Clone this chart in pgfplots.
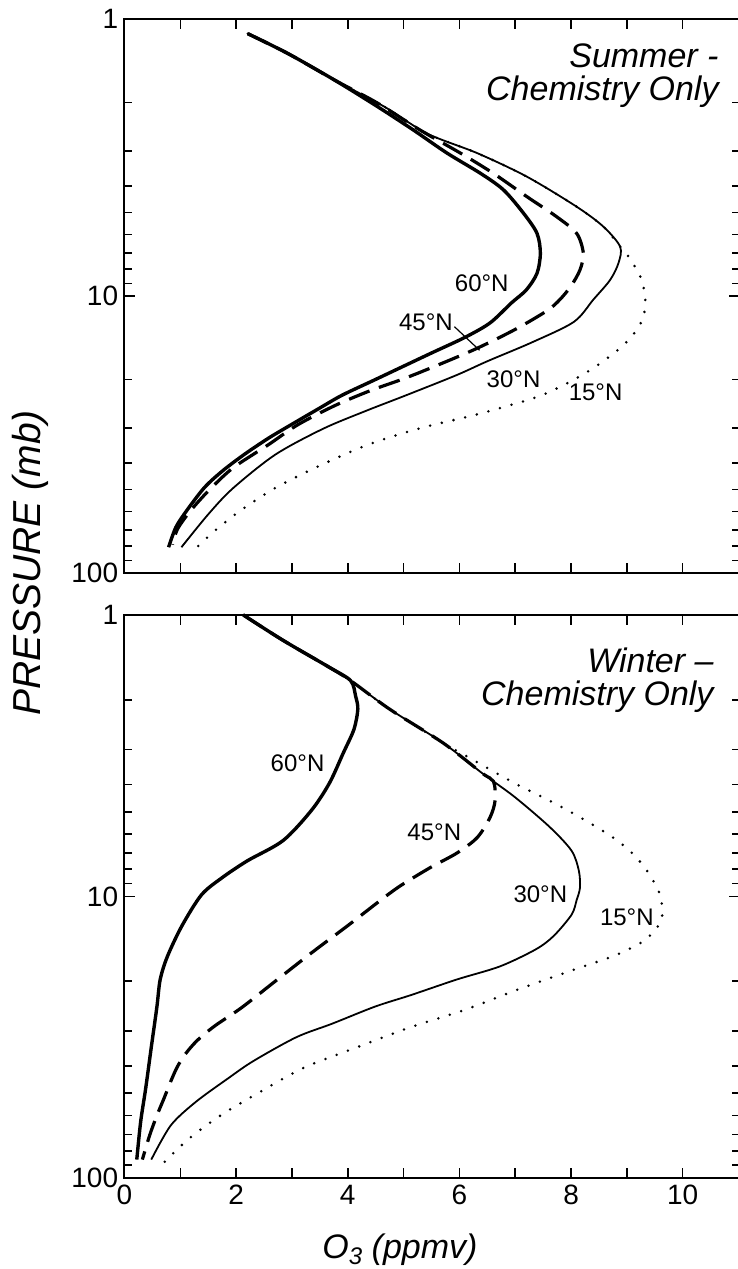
\documentclass[border=0pt]{standalone}
\usepackage{fontspec}
\setmainfont{Liberation Sans}
\usepackage{pgfplots}
\pgfplotsset{compat=1.18}

\tikzset{
  lat60/.style={black, line width=1.7pt},
  lat45/.style={black, line width=1.6pt, dash pattern=on 11pt off 5pt},
  lat30/.style={black, line width=0.9pt},
  lat15/.style={black, line width=1.4pt, dash pattern=on 0pt off 6pt, line cap=round},
  latlbl/.style={font=\fontsize{12}{14}\selectfont, inner sep=1pt},
  ttl/.style={anchor=north east, align=right, inner sep=0pt, font=\itshape\fontsize{17}{16.5}\selectfont},
}

\begin{document}
\begin{tikzpicture}

% ---- Summer
\begin{axis}[scale only axis, width=307pt, height=277pt,
    at={(62.25pt,-286.5pt)}, anchor=south west,
    xmin=0, xmax=11, ymin=1, ymax=100,
    ymode=log, y dir=reverse, clip=false,
    axis line style={line width=1pt},
    tick align=inside,
    xtick={0,1,2,3,4,5,6,7,8,9,10,11}, xticklabels={},
    ytick={1,10,100}, yticklabels={1,10,100},
    minor ytick={2,3,4,5,6,7,8,9,20,30,40,50,60,70,80,90},
    major tick length=5pt, minor tick length=3.5pt,
    tick style={black, line width=0.8pt},
    tick label style={font=\fontsize{14}{16}\selectfont},
    yticklabel style={inner sep=1pt, xshift=-2pt}]
\addplot[lat15, smooth] coordinates {
  (2.21,1.13) (2.92,1.33) (3.76,1.66) (4.65,2.07) (5.42,2.59) (6.32,3.05) (7.21,3.71)
  (8.10,4.76) (8.58,5.62) (8.88,6.64) (9.05,7.3) (9.25,8.6) (9.33,10.2) (9.3,11.8)
  (9.17,13.3) (8.9,15.3) (8.4,18.2) (7.9,20.8) (7.35,23.3) (6.3,26.8) (5.3,30)
  (4.4,34.2) (3.54,40.6) (2.71,49.2) (2.07,59.7) (1.62,70.3) (1.3,80.7)
};
\addplot[lat30, smooth] coordinates {
  (2.21,1.13) (2.92,1.33) (3.76,1.66) (4.65,2.07) (5.42,2.59) (6.32,3.05) (7.21,3.71)
  (8.10,4.76) (8.58,5.62) (8.88,6.64) (8.85,7.6) (8.7,8.75) (8.4,10.3) (8.05,12.4)
  (7.3,14.7) (6.5,17.2) (5.95,19.3) (5.05,22.8) (4.3,26.1) (3.55,30.2) (2.7,37.4)
  (1.94,49.5) (1.5,61.4) (1.02,80.7)
};
\addplot[lat45, smooth] coordinates {
  (2.21,1.13) (2.92,1.33) (3.76,1.66) (4.53,2.01) (5.30,2.52) (6.02,3.05) (6.61,3.61)
  (7.21,4.38) (7.74,5.17) (8.1,5.94) (8.22,7.01) (8.16,8.05) (8.0,9.2) (7.8,10.3)
  (7.57,11.3) (7.0,13.2) (6.3,15.5) (5.6,17.8) (5.0,19.9) (4.42,21.9) (3.78,24.8)
  (3.1,29.2) (2.58,34.4) (1.94,41.8) (1.5,50.6) (1.18,59.7) (0.95,69.4) (0.86,79)
};
\addplot[lat60, smooth] coordinates {
  (2.21,1.13) (2.92,1.33) (3.76,1.66) (4.53,2.07) (5.18,2.52) (5.78,3.05) (6.38,3.61)
  (6.79,4.14) (7.15,5.03) (7.39,5.94) (7.45,7.01) (7.39,8.28) (7.2,9.5) (6.93,10.6)
  (6.55,12.5) (6.1,14.1) (5.46,16.2) (4.5,20) (3.9,22.8) (3.48,25.5) (3.03,28.8)
  (2.58,32.6) (2.14,37.4) (1.75,42.9) (1.43,49.2) (1.11,59.7) (0.92,68.4) (0.79,80.7)
};
\node[latlbl] at (axis cs:6.4,9.0) {60°N};
\node[latlbl] at (axis cs:5.4,12.4) {45°N};
\draw[line width=0.6pt] (axis cs:5.91,12.9) -- (axis cs:6.36,15.7);
\node[latlbl] at (axis cs:6.97,19.9) {30°N};
\node[latlbl] at (axis cs:8.44,22.3) {15°N};
\node[ttl] at (axis cs:10.65,1.22) {Summer -\\Chemistry Only};
\end{axis}

% ---- Winter
\begin{axis}[scale only axis, width=307pt, height=281.5pt,
    at={(62.25pt,-589pt)}, anchor=south west,
    xmin=0, xmax=11, ymin=1, ymax=100,
    ymode=log, y dir=reverse, clip=false,
    axis line style={line width=1pt},
    tick align=inside,
    xtick={0,1,2,3,4,5,6,7,8,9,10,11}, xticklabels={0,,2,,4,,6,,8,,10,},
    ytick={1,10,100}, yticklabels={1,10,100},
    minor ytick={2,3,4,5,6,7,8,9,20,30,40,50,60,70,80,90},
    major tick length=5pt, minor tick length=3.5pt,
    tick style={black, line width=0.8pt},
    tick label style={font=\fontsize{14}{16}\selectfont},
    yticklabel style={inner sep=1pt, xshift=-2pt},
    xticklabel style={inner sep=1pt, yshift=-2.5pt}]
\addplot[lat15, smooth] coordinates {
  (2.13,1.0) (2.84,1.23) (3.66,1.53) (4.05,1.71) (4.75,2.16) (5.71,2.85) (6.1,3.15)
  (6.99,3.96) (7.6,4.55) (8.16,5.23) (8.75,6.17) (9.1,7.03) (9.36,8.1) (9.59,9.8)
  (9.63,11.8) (9.5,13.2) (9.25,14.6) (8.75,16.3) (8.05,18.2) (7.05,21.4) (6.09,25.3)
  (5.13,29.1) (4.17,34.3) (3.21,40.6) (2.44,49.3) (1.73,59.8) (1.15,72.6) (0.71,88)
};
\addplot[lat30, smooth] coordinates {
  (2.13,1.0) (2.84,1.23) (3.66,1.53) (4.05,1.71) (4.75,2.16) (5.71,2.85) (6.41,3.65)
  (6.99,4.43) (7.62,5.67) (8.01,6.88) (8.14,8.1) (8.16,9.3) (8.1,10.3) (8.01,11.6)
  (7.69,13.8) (7.37,15.4) (6.73,17.7) (5.96,19.7) (5.13,22.4) (4.49,24.6) (3.72,28.3)
  (3.08,31.6) (2.31,38.4) (1.86,44.2) (1.28,53.6) (0.83,65) (0.48,86)
};
\addplot[lat45, smooth] coordinates {
  (2.13,1.0) (2.84,1.23) (3.66,1.53) (4.05,1.71) (4.75,2.16) (5.71,2.85) (6.41,3.65)
  (6.61,3.9) (6.64,4.55) (6.55,5.23) (6.32,6.17) (5.96,7.0) (5.48,7.89) (4.95,9.14)
  (4.59,10.3) (4.02,12.6) (3.36,15.8) (2.7,20) (2.1,24.8) (1.62,28.8) (1.3,32.5)
  (1.08,36.5) (0.94,40.5) (0.82,45.8) (0.71,52) (0.58,60) (0.45,70.6) (0.32,86)
};
\addplot[lat60, smooth] coordinates {
  (2.13,1.0) (2.84,1.23) (3.66,1.53) (4.05,1.71) (4.14,1.94) (4.18,2.16) (4.11,2.55)
  (3.92,3.09) (3.67,3.96) (3.35,4.94) (2.84,6.33) (2.2,7.47) (1.75,8.57) (1.38,9.86)
  (1.03,12.7) (0.77,16.3) (0.64,19.7) (0.58,24.7) (0.48,34.3) (0.38,48) (0.29,63) (0.22,86)
};
\node[latlbl] at (axis cs:3.1,3.36) {60°N};
\node[latlbl] at (axis cs:5.55,5.91) {45°N};
\node[latlbl] at (axis cs:7.45,9.84) {30°N};
\node[latlbl] at (axis cs:9.0,11.8) {15°N};
\node[ttl] at (axis cs:10.56,1.3) {Winter –\\Chemistry Only};
\end{axis}

\node[rotate=90, font=\itshape\fontsize{19.5}{21}\selectfont] at (15pt,-281.5pt) {PRESSURE (mb)};
\node[anchor=base, font=\itshape\fontsize{17}{19}\selectfont] at (200pt,-629pt) {O\raisebox{-0.35ex}{\fontsize{12}{12}\selectfont 3} (ppmv)};

\pgfresetboundingbox
\path[use as bounding box] (0pt,0pt) rectangle (369pt,-634.5pt);
\end{tikzpicture}
\end{document}
